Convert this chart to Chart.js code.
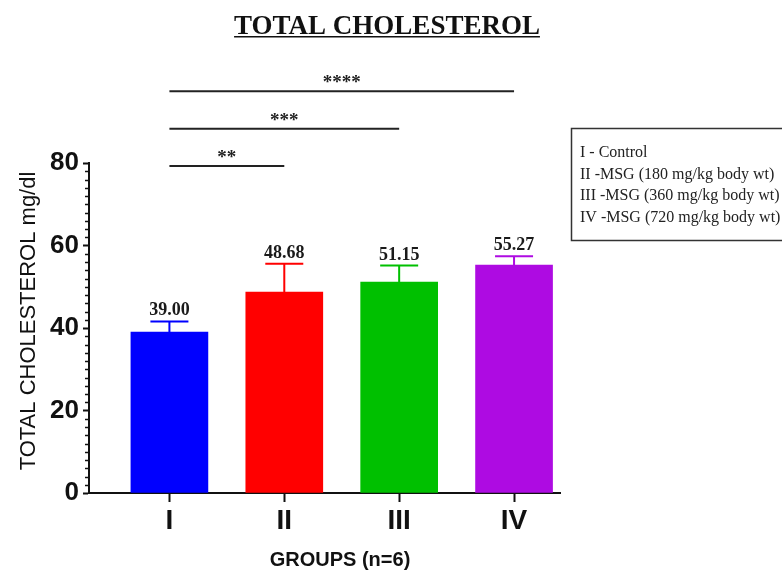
<!DOCTYPE html>
<html lang="en">
<head>
  <meta charset="UTF-8">
  <title>Total Cholesterol</title>
  <script src="https://cdn.jsdelivr.net/npm/chart.js"></script>
  <style>
      html, body { margin: 0; padding: 0; background: #ffffff; }
      #chart-container { width: 782px; height: 571px; position: relative; }
  </style>
</head>
<body>
  <div id="chart-container">
      <canvas id="cholChart"></canvas>
  </div>

  <script>
      // group labels, means and SD (upper error bar)
      var groups = ['I', 'II', 'III', 'IV'];
      var means = [39.00, 48.68, 51.15, 55.27];
      var sds = [2.6, 6.9, 4.0, 2.1];
      var barColors = ['#0000ff', '#ff0000', '#00c000', '#ae0be2'];

      // significance brackets vs control
      var sigFrom = [0, 0, 0];
      var sigTo = [1, 2, 3];
      var sigMarks = ['**', '***', '****'];
      var sigLevels = [79.3, 88.3, 97.4];

      var legendLines = [
        'I - Control',
        'II -MSG (180 mg/kg body wt)',
        'III -MSG (360 mg/kg body wt)',
        'IV -MSG (720 mg/kg body wt)'
      ];

      var yTicks = [0, 20, 40, 60, 80];

      var serif = '"Liberation Serif", "Times New Roman", serif';
      var sans = '"Liberation Sans", Arial, sans-serif';

      // error bars, value labels, brackets, minor ticks, titles and legend box
      Chart.register({
          id: 'extras',
          afterDraw: (chart) => {
              const { ctx, chartArea, scales: { x, y } } = chart;
              ctx.save();

              // minor ticks every 2 units
              ctx.strokeStyle = '#111';
              ctx.lineWidth = 1.5;
              for (let v = 2; v < 80; v += 2) {
                  if (v % 20 === 0) continue;
                  const py = Math.round(y.getPixelForValue(v)) + 0.5;
                  ctx.beginPath();
                  ctx.moveTo(chartArea.left - 4, py);
                  ctx.lineTo(chartArea.left, py);
                  ctx.stroke();
              }

              // error bars + mean labels
              means.forEach((m, i) => {
                  const cx = x.getPixelForValue(i);
                  const base = y.getPixelForValue(m);
                  const top = y.getPixelForValue(m + sds[i]);
                  ctx.strokeStyle = barColors[i];
                  ctx.lineWidth = 2;
                  ctx.beginPath();
                  ctx.moveTo(cx, base);
                  ctx.lineTo(cx, top);
                  ctx.moveTo(cx - 19, top);
                  ctx.lineTo(cx + 19, top);
                  ctx.stroke();

                  ctx.fillStyle = '#1a1a1a';
                  ctx.font = 'bold 18px ' + serif;
                  ctx.textAlign = 'center';
                  ctx.textBaseline = 'alphabetic';
                  ctx.fillText(m.toFixed(2), cx, top - 6);
              });

              // significance lines
              sigMarks.forEach((mark, i) => {
                  const x1 = x.getPixelForValue(sigFrom[i]);
                  const x2 = x.getPixelForValue(sigTo[i]);
                  const py = y.getPixelForValue(sigLevels[i]);
                  ctx.strokeStyle = '#222';
                  ctx.lineWidth = 2;
                  ctx.beginPath();
                  ctx.moveTo(x1, py);
                  ctx.lineTo(x2, py);
                  ctx.stroke();
                  ctx.fillStyle = '#222';
                  ctx.font = 'bold 19px ' + serif;
                  ctx.textAlign = 'center';
                  ctx.fillText(mark, (x1 + x2) / 2, py - 3);
              });

              // underlined title
              ctx.fillStyle = '#111';
              ctx.font = 'bold 27px ' + serif;
              ctx.textAlign = 'center';
              ctx.fillText('TOTAL CHOLESTEROL', 387, 34);
              const tw = ctx.measureText('TOTAL CHOLESTEROL').width;
              ctx.fillRect(387 - tw / 2, 36, tw, 1.5);

              // axis titles
              ctx.font = 'bold 20px ' + sans;
              ctx.textBaseline = 'middle';
              ctx.fillText('GROUPS (n=6)', 340, 560);

              ctx.save();
              ctx.translate(29, 321);
              ctx.rotate(-Math.PI / 2);
              ctx.font = '22px ' + sans;
              ctx.fillText('TOTAL CHOLESTEROL mg/dl', 0, 0);
              ctx.restore();

              // legend box
              ctx.textBaseline = 'alphabetic';
              ctx.strokeStyle = '#333';
              ctx.lineWidth = 1.5;
              ctx.strokeRect(571.5, 128.5, 222, 112);
              ctx.fillStyle = '#222';
              ctx.font = '16px ' + serif;
              ctx.textAlign = 'left';
              legendLines.forEach((t, i) => {
                  ctx.fillText(t, 580, 157 + i * 21.5);
              });

              ctx.restore();
          }
      });

      var ctx = document.getElementById('cholChart').getContext('2d');

      var cholChart = new Chart(ctx, {
          type: 'bar',
          data: {
              datasets: [{
                  data: means.map((m, i) => ({ x: i, y: m })),
                  backgroundColor: barColors,
                  borderWidth: 0,
                  barThickness: 77
              }]
          },
          options: {
              responsive: true,
              maintainAspectRatio: false,
              animation: false,
              layout: {
                  padding: { left: 0, right: 222, top: 163, bottom: 0 }
              },
              plugins: {
                  legend: { display: false },
                  tooltip: { enabled: false }
              },
              scales: {
                  x: {
                      type: 'linear',
                      min: -0.7,
                      max: 3.4,
                      offset: false,
                      afterBuildTicks: (axis) => {
                          axis.ticks = groups.map((g, i) => ({ value: i }));
                      },
                      afterFit: (axis) => { axis.height = 78; },
                      ticks: {
                          color: '#111',
                          font: { family: sans, size: 28, weight: 'bold' },
                          padding: 2,
                          callback: (v) => groups[v]
                      },
                      grid: {
                          drawOnChartArea: false,
                          offset: false,
                          tickLength: 9,
                          tickWidth: 2,
                          tickColor: '#111'
                      },
                      border: { color: '#111', width: 2 }
                  },
                  y: {
                      min: 0,
                      max: 80,
                      afterBuildTicks: (axis) => {
                          axis.ticks = yTicks.map(v => ({ value: v }));
                      },
                      afterFit: (axis) => { axis.width = 89; },
                      ticks: {
                          color: '#111',
                          font: { family: sans, size: 26, weight: 'bold' },
                          padding: 4
                      },
                      grid: {
                          drawOnChartArea: false,
                          tickLength: 6,
                          tickWidth: 2,
                          tickColor: '#111'
                      },
                      border: { color: '#111', width: 2 }
                  }
              }
          }
      });
  </script>
</body>
</html>
